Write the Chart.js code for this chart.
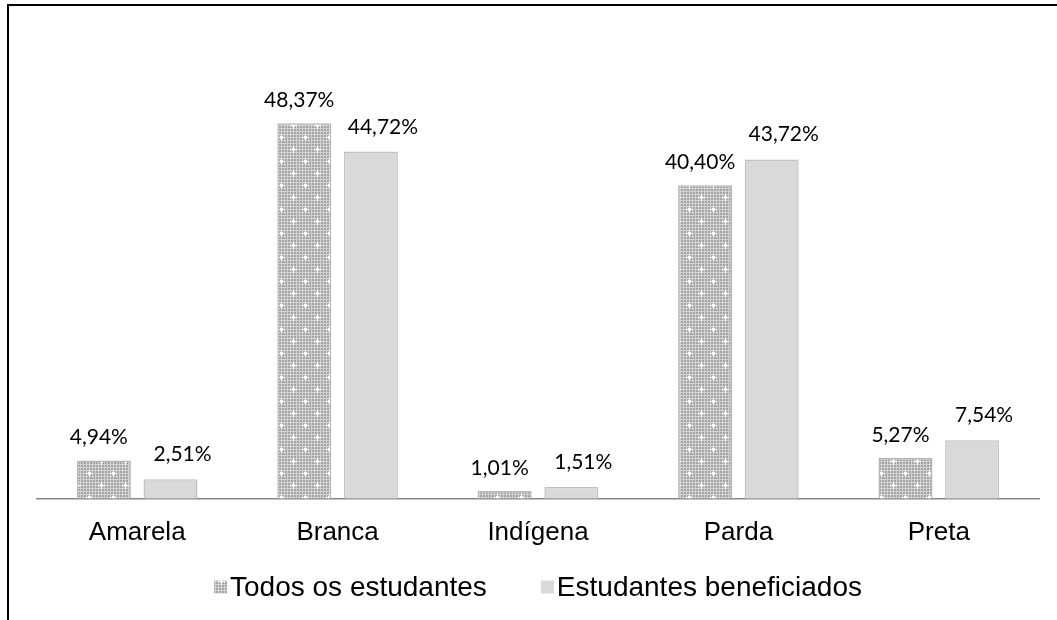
<!DOCTYPE html>
<html>
<head>
<meta charset="utf-8">
<script src="https://cdn.jsdelivr.net/npm/chart.js@4"></script>
<style>
  html, body { margin: 0; padding: 0; background: #fff; }
  #wrap { width: 1057px; height: 620px; }
</style>
</head>
<body>
<div id="wrap"><canvas id="grafico"></canvas></div>
<script>
const categorias = ['Amarela', 'Branca', 'Indígena', 'Parda', 'Preta'];
const todosEstudantes = [4.94, 48.37, 1.01, 40.40, 5.27];
const beneficiados = [2.51, 44.72, 1.51, 43.72, 7.54];
const nomesSeries = ['Todos os estudantes', 'Estudantes beneficiados'];

const fonteArial = '"Liberation Sans", Arial, sans-serif';
const fonteRotulo = 'Lato, "Open Sans", sans-serif';

// textured fill for the first series (fine grey grid with white sparkles)
function padrao() {
  const c = document.createElement('canvas');
  c.width = 24; c.height = 24;
  const g = c.getContext('2d');
  g.fillStyle = '#d2d2d2';
  g.fillRect(0, 0, 24, 24);
  g.fillStyle = '#a4a4a4';
  for (let y = 0; y < 24; y += 3) {
    for (let x = 0; x < 24; x += 3) g.fillRect(x, y, 2, 2);
  }
  g.fillStyle = '#ffffff';
  [[5, 5], [17, 17]].forEach(([x, y]) => {
    g.fillRect(x - 1, y - 1, 3, 3);
    g.fillRect(x - 3, y, 7, 1);
    g.fillRect(x, y - 3, 1, 7);
  });
  return g.createPattern(c, 'repeat');
}
const texturaTodos = padrao();

const fmt = v => v.toFixed(2).replace('.', ',') + '%';

const rotulos = {
  id: 'rotulos',
  afterDatasetsDraw(chart) {
    const ctx = chart.ctx;
    ctx.save();
    ctx.fillStyle = '#000';
    ctx.textAlign = 'center';
    ctx.textBaseline = 'alphabetic';
    ctx.font = '21px ' + fonteRotulo;
    chart.data.datasets.forEach((ds, i) => {
      const meta = chart.getDatasetMeta(i);
      meta.data.forEach((bar, j) => {
        const dx = i === 0 ? -5 : 12;
        const dy = i === 0 ? 16 : 18;
        ctx.fillText(fmt(ds.data[j]), bar.x + dx, bar.y - dy);
      });
    });
    ctx.restore();
  }
};

const legenda = {
  id: 'legenda',
  afterDraw(chart) {
    const ctx = chart.ctx;
    const area = chart.chartArea;
    ctx.save();
    ctx.font = '28px ' + fonteArial;
    ctx.textBaseline = 'middle';
    ctx.textAlign = 'left';
    const box = 13, gapTxt = 3, gapItem = 54, yc = 587;
    const larg = chart.data.datasets.map(ds => box + gapTxt + ctx.measureText(ds.label).width);
    const total = larg.reduce((a, b) => a + b, 0) + gapItem * (larg.length - 1);
    let x = (area.left + area.right) / 2 - total / 2;
    chart.data.datasets.forEach((ds, i) => {
      ctx.fillStyle = ds.backgroundColor;
      ctx.fillRect(x, yc - box / 2, box, box);
      ctx.fillStyle = '#000';
      ctx.fillText(ds.label, x + box + gapTxt, yc + 1);
      x += larg[i] + gapItem;
    });
    ctx.restore();
  }
};

const moldura = {
  id: 'moldura',
  afterDraw(chart) {
    const ctx = chart.ctx;
    ctx.save();
    ctx.strokeStyle = '#000';
    ctx.lineWidth = 2;
    ctx.beginPath();
    ctx.moveTo(1057, 5);
    ctx.lineTo(8, 5);
    ctx.lineTo(8, 620);
    ctx.stroke();
    ctx.restore();
  }
};

new Chart(document.getElementById('grafico'), {
  type: 'bar',
  data: {
    labels: categorias,
    datasets: [{
      label: nomesSeries[0],
      data: todosEstudantes,
      backgroundColor: texturaTodos,
      borderColor: '#b5b5b5',
      borderWidth: 1.5
    }, {
      label: nomesSeries[1],
      data: beneficiados,
      backgroundColor: '#d9d9d9',
      borderColor: '#c2c2c2',
      borderWidth: 1.5
    }]
  },
  options: {
    responsive: true,
    maintainAspectRatio: false,
    animation: false,
    categoryPercentage: 0.665,
    barPercentage: 0.81,
    layout: { padding: { left: 37, right: 18, top: 33, bottom: 54 } },
    scales: {
      x: {
        grid: { display: false, drawTicks: false },
        border: { color: '#878787', width: 1.5 },
        ticks: { color: '#000', padding: 18, font: { family: fonteArial, size: 26 } }
      },
      y: {
        display: false,
        min: 0,
        max: 60
      }
    },
    plugins: {
      legend: { display: false },
      tooltip: { enabled: false }
    }
  },
  plugins: [rotulos, legenda, moldura]
});
</script>
</body>
</html>
